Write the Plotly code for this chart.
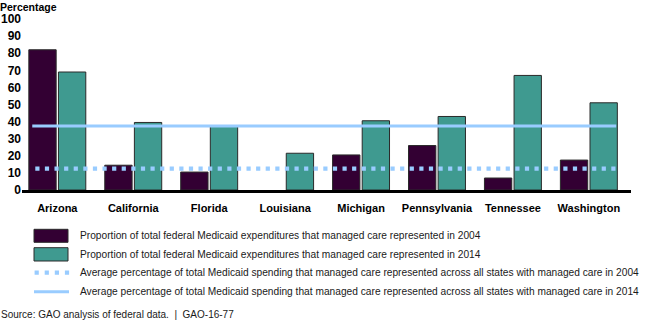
import plotly.graph_objects as go

# ---- data ----
states = ["Arizona", "California", "Florida", "Louisiana", "Michigan",
          "Pennsylvania", "Tennessee", "Washington"]
share_2004 = [82, 14.5, 10.5, None, 20.5, 26, 7, 17.5]
share_2014 = [69, 39.5, 37.5, 21.5, 40.5, 43, 67, 51]
avg_2004 = 12.5
avg_2014 = 37.5
y_ticks = [0, 10, 20, 30, 40, 50, 60, 70, 80, 90, 100]
legend_labels = [
    "Proportion of total federal Medicaid expenditures that managed care represented in 2004",
    "Proportion of total federal Medicaid expenditures that managed care represented in 2014",
    "Average percentage of total Medicaid spending that managed care represented across all states with managed care in 2004",
    "Average percentage of total Medicaid spending that managed care represented across all states with managed care in 2014",
]
source_text = "Source: GAO analysis of federal data.  |  GAO-16-77"
y_title = "Percentage"

# ---- styling ----
W, H = 650, 325
ML, MR, MT, MB = 22, 19, 19, 135
PW, PH = W - ML - MR, H - MT - MB
PURPLE = "#330033"
TEAL = "#3F9A90"
BLUE = "#99CCFF"
EDGE = "#2A2A2A"
FONT = "Arial, Liberation Sans, sans-serif"

def px(x):
    return (x - ML) / PW

def py(y):
    return (H - MB - y) / PH

xpos = list(range(len(states)))
line_x_solid = [-0.33, len(states) - 1 + 0.36]
line_x_dot = [-0.29, len(states) - 1 + 0.36]

fig = go.Figure()
fig.add_trace(go.Bar(x=xpos, y=share_2004, name=legend_labels[0],
                     width=0.36, offset=-0.375,
                     marker=dict(color=PURPLE, line=dict(color=EDGE, width=1))))
fig.add_trace(go.Bar(x=xpos, y=share_2014, name=legend_labels[1],
                     width=0.36, offset=0.015,
                     marker=dict(color=TEAL, line=dict(color=EDGE, width=1))))
fig.add_trace(go.Scatter(x=line_x_dot, y=[avg_2004, avg_2004], mode="lines",
                         name=legend_labels[2],
                         line=dict(color=BLUE, width=4.2, dash="4.2px,5.4px")))
fig.add_trace(go.Scatter(x=line_x_solid, y=[avg_2014, avg_2014], mode="lines",
                         name=legend_labels[3],
                         line=dict(color=BLUE, width=3)))

# manual legend
shapes = []
annotations = []
rows_y = [235.7, 254.3, 272.7, 291.7]
shapes.append(dict(type="rect", xref="paper", yref="paper",
                   x0=px(34), x1=px(68), y0=py(242.3), y1=py(229.3),
                   fillcolor=PURPLE, line=dict(color=EDGE, width=1)))
shapes.append(dict(type="rect", xref="paper", yref="paper",
                   x0=px(34), x1=px(68), y0=py(261), y1=py(247.7),
                   fillcolor=TEAL, line=dict(color=EDGE, width=1)))
shapes.append(dict(type="line", xref="paper", yref="paper",
                   x0=px(34.6), x1=px(70), y0=py(rows_y[2]), y1=py(rows_y[2]),
                   line=dict(color=BLUE, width=4.2, dash="4.2px,5.9px")))
shapes.append(dict(type="line", xref="paper", yref="paper",
                   x0=px(34), x1=px(69), y0=py(rows_y[3]), y1=py(rows_y[3]),
                   line=dict(color=BLUE, width=3)))
for lab, yy in zip(legend_labels, rows_y):
    annotations.append(dict(text=lab, xref="paper", yref="paper",
                            x=px(77.5), y=py(yy), xanchor="left", yanchor="middle",
                            showarrow=False, font=dict(family=FONT, size=10.2, color="#1a1a1a")))
annotations.append(dict(text=source_text, xref="paper", yref="paper",
                        x=px(-1), y=py(314.3), xanchor="left", yanchor="middle",
                        showarrow=False, font=dict(family=FONT, size=10, color="#1a1a1a")))
annotations.append(dict(text="<b>" + y_title + "</b>", xref="paper", yref="paper",
                        x=px(-1), y=py(0), xanchor="left", yanchor="top", borderpad=0,
                        showarrow=False, font=dict(family=FONT, size=10.5, color="black")))

fig.update_layout(
    width=W, height=H,
    margin=dict(l=ML, r=MR, t=MT, b=MB, pad=0, autoexpand=False),
    paper_bgcolor="white", plot_bgcolor="white",
    showlegend=False,
    barmode="overlay",
    font=dict(family=FONT, color="black"),
    shapes=shapes, annotations=annotations,
    xaxis=dict(range=[-0.465, len(states) - 1 + 0.555], tickvals=xpos,
               ticktext=["<b>" + s + "</b>" for s in states],
               tickfont=dict(size=11, family=FONT, color="black"),
               ticklabelstandoff=6,
               showline=True, linecolor="black", linewidth=3, automargin=False,
               showgrid=False, zeroline=False, ticks="", fixedrange=True),
    yaxis=dict(range=[0, 100], tickvals=y_ticks, automargin=False,
               ticktext=["<b>%d</b>" % v for v in y_ticks],
               tickfont=dict(size=12, family=FONT, color="black"),
               showline=False, showgrid=False, zeroline=False, ticks=""),
)

fig.write_html("out.html")
